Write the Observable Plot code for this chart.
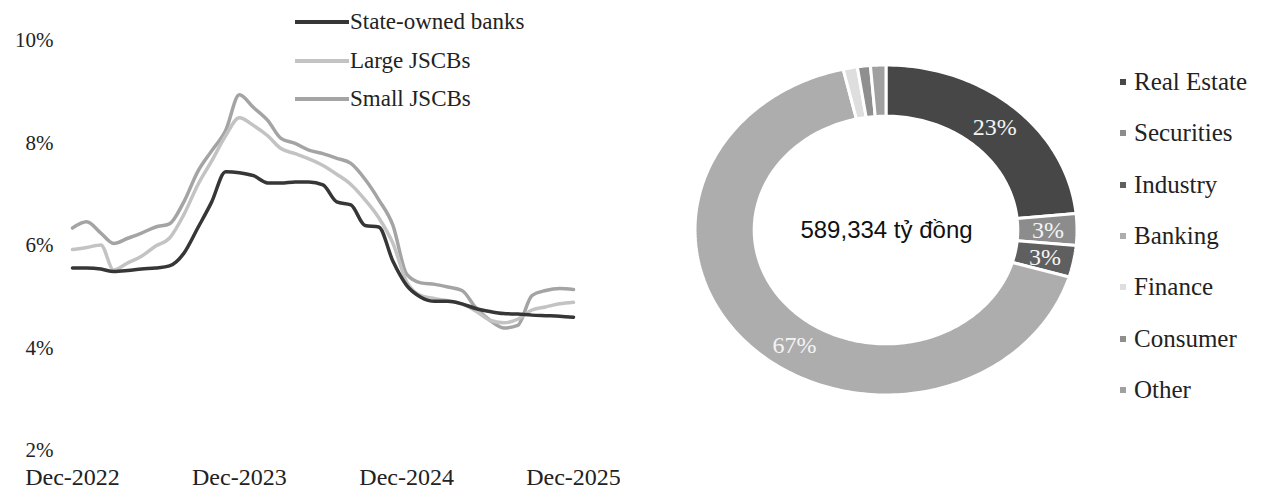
<!DOCTYPE html>
<html><head><meta charset="utf-8">
<script src="https://cdn.jsdelivr.net/npm/d3@7"></script>
<script src="https://cdn.jsdelivr.net/npm/@observablehq/plot@0.6"></script>
<style>
body{margin:0;background:#fff;}
#wrap{position:relative;width:1264px;height:497px;overflow:hidden;font-family:"Liberation Serif",serif;color:#222;}
#line{position:absolute;left:0;top:0;}
#donut{position:absolute;left:640px;top:0;}
.ll{position:absolute;left:295px;display:flex;align-items:center;font-size:23px;white-space:nowrap;}
.ll i{display:inline-block;width:54px;height:4px;margin-right:1px;}
.dl{position:absolute;left:1120px;display:flex;align-items:center;font-size:25px;white-space:nowrap;}
.dl i{display:inline-block;width:6px;height:6px;margin-right:8px;}
</style></head><body><div id="wrap"><div id="line"></div><div id="donut"></div></div>
<script>
// ---- line chart data ----
const seriesNames = ["State-owned banks", "Large JSCBs", "Small JSCBs"];
const seriesColors = ["#363636", "#c3c3c3", "#a4a4a4"];
const stateOwned = [5.62,5.62,5.6,5.55,5.57,5.6,5.62,5.66,5.9,6.4,6.9,7.5,7.48,7.42,7.28,7.28,7.3,7.3,7.24,6.91,6.85,6.45,6.42,5.75,5.28,5.05,4.97,4.97,4.92,4.83,4.77,4.73,4.72,4.7,4.69,4.68,4.66];
const largeJSCBs = [5.98,6.02,6.07,5.58,5.72,5.85,6.05,6.2,6.65,7.24,7.7,8.2,8.55,8.4,8.2,7.95,7.85,7.75,7.62,7.45,7.25,6.95,6.6,6.1,5.35,5.08,5.02,4.98,4.92,4.78,4.6,4.55,4.62,4.8,4.86,4.92,4.95];
const smallJSCBs = [6.4,6.52,6.3,6.1,6.2,6.3,6.42,6.48,6.9,7.5,7.9,8.3,9.0,8.75,8.5,8.15,8.05,7.92,7.85,7.76,7.66,7.35,6.95,6.45,5.5,5.33,5.3,5.25,5.18,4.85,4.6,4.45,4.5,5.08,5.18,5.22,5.2];
const xTickLabels = ["Dec-2022", "Dec-2023", "Dec-2024", "Dec-2025"];
const yTicks = [2, 4, 6, 8, 10];

// ---- donut data ----
const sectors = ["Real Estate", "Securities", "Industry", "Banking", "Finance", "Consumer", "Other"];
const shares = [23.4, 3.1, 3.1, 66.8, 1.2, 1.1, 1.3];
const sliceColors = ["#474747", "#8c8c8c", "#5f5f5f", "#adadad", "#dedede", "#8f8f8f", "#a0a0a0"];
const totalLabel = "589,334 tỷ đồng";

const months = d3.utcMonth.range(new Date(Date.UTC(2022, 11, 1)), new Date(Date.UTC(2026, 0, 1)));
const byName = {"State-owned banks": stateOwned, "Large JSCBs": largeJSCBs, "Small JSCBs": smallJSCBs};
const lineData = [];
["Small JSCBs", "Large JSCBs", "State-owned banks"].forEach(name =>
  byName[name].forEach((v, j) => lineData.push({series: name, date: months[j], value: v})));
const xTickDates = xTickLabels.map(s => d3.utcParse("%b-%Y")(s));

const linePlot = Plot.plot({
  width: 620, height: 497,
  marginLeft: 72, marginRight: 47, marginTop: 43, marginBottom: 44,
  style: {fontFamily: "'Liberation Serif', serif", color: "#222", background: "transparent"},
  x: {type: "utc", domain: [months[0], months[months.length - 1]]},
  y: {domain: [2, 10]},
  color: {domain: seriesNames, range: seriesColors},
  marks: [
    Plot.axisY({ticks: yTicks, tickFormat: d => d + "%", tickSize: 0, tickPadding: 19, fontSize: 21, dy: -3, label: null, fill: "#222"}),
    Plot.axisX({ticks: xTickDates, tickFormat: (d, i) => xTickLabels[i], tickSize: 0, tickPadding: 14, fontSize: 24, label: null, fill: "#222"}),
    Plot.line(lineData, {x: "date", y: "value", z: "series", stroke: "series", strokeWidth: 3.5, curve: "monotone-x"})
  ]
});
document.getElementById("line").appendChild(linePlot);

// line legend
const wrap = document.getElementById("wrap");
seriesNames.forEach((n, i) => {
  const d = document.createElement("div");
  d.className = "ll";
  d.style.top = (9 + i * 38.5) + "px";
  d.innerHTML = `<i style="background:${seriesColors[i]}"></i><span>${n}</span>`;
  wrap.appendChild(d);
});

// donut geometry
const rIn = 0.69, rOut = 1;
let acc = 0;
const ringRows = [], labelRows = [];
sectors.forEach((s, i) => {
  const a0 = acc / 100 * 2 * Math.PI, a1 = (acc + shares[i]) / 100 * 2 * Math.PI;
  acc += shares[i];
  const n = Math.max(2, Math.ceil((a1 - a0) / 0.02));
  for (let k = 0; k <= n; k++) {
    const t = a0 + (a1 - a0) * k / n;
    ringRows.push({sector: s, x1: rIn * Math.sin(t), y1: rIn * Math.cos(t), x2: rOut * Math.sin(t), y2: rOut * Math.cos(t)});
  }
  const tm = shares[i] > 50 ? a0 + (a1 - a0) * 0.45 : (a0 + a1) / 2;
  const rm = (rIn + rOut) / 2;
  const pct = Math.round(shares[i]);
  labelRows.push({sector: s, label: pct >= 3 ? pct + "%" : "", x: rm * Math.sin(tm), y: rm * Math.cos(tm)});
});

const donut = Plot.plot({
  width: 480, height: 497,
  marginLeft: 55, marginRight: 43, marginTop: 65, marginBottom: 102,
  style: {background: "transparent"},
  x: {domain: [-1, 1], axis: null},
  y: {domain: [-1, 1], axis: null},
  color: {domain: sectors, range: sliceColors},
  marks: [
    Plot.area(ringRows, {x1: "x1", y1: "y1", x2: "x2", y2: "y2", z: "sector", fill: "sector", stroke: "white", strokeWidth: 3}),
    Plot.text(labelRows, {x: "x", y: "y", text: "label", fill: "#f4f4f4", fontSize: 24, fontFamily: "'Liberation Serif', serif"}),
    Plot.text([totalLabel], {frameAnchor: "middle", text: d => d, fontSize: 24, fontFamily: "'Liberation Sans', sans-serif", fill: "#111"})
  ]
});
document.getElementById("donut").appendChild(donut);

// donut legend
sectors.forEach((s, i) => {
  const d = document.createElement("div");
  d.className = "dl";
  d.style.top = (68 + i * 51.3) + "px";
  d.innerHTML = `<i style="background:${sliceColors[i]}"></i><span>${s}</span>`;
  wrap.appendChild(d);
});
</script></body></html>
